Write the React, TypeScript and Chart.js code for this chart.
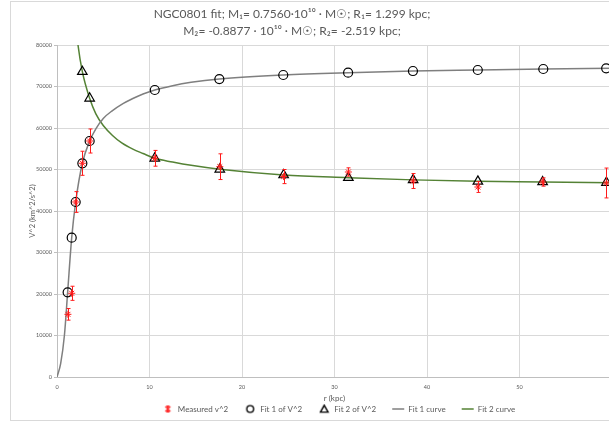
import React, { useEffect, useRef } from 'react';
import { Chart, registerables } from 'chart.js';

Chart.register(...registerables);

// ---- Data ----
const titleLines = [
  'NGC0801 fit; M₁= 0.7560·10¹⁰ · M☉; R₁= 1.299 kpc;',
  'M₂= -0.8877 · 10¹⁰ · M☉; R₂= -2.519 kpc;',
];
const xAxisTitle = 'r (kpc)';
const yAxisTitle = 'V^2 (km^2/s^2)';
const seriesNames = ['Measured v^2', 'Fit 1 of V^2', 'Fit 2 of V^2', 'Fit 1 curve', 'Fit 2 curve'];

const measuredR = [1.18, 1.59, 2.02, 2.74, 3.53, 10.57, 17.6, 24.5, 31.5, 38.5, 45.5, 52.5, 59.4];
const measuredV2 = [15100, 20170, 42170, 51500, 56870, 52700, 50680, 48300, 49400, 47230, 45780, 46990, 46750];
const measuredErr = [1400, 1700, 2500, 2900, 2900, 1900, 3100, 1700, 1000, 1800, 1300, 1000, 3600];

const fit1R = [1.15, 1.59, 2.02, 2.74, 3.53, 10.57, 17.55, 24.46, 31.47, 38.48, 45.49, 52.57, 59.37];
const fit1V2 = [20400, 33570, 42170, 51500, 56870, 69160, 71800, 72770, 73330, 73730, 73980, 74220, 74390];

const fit2R = [2.74, 3.53, 10.57, 17.6, 24.5, 31.5, 38.5, 45.5, 52.5, 59.4];
const fit2V2 = [73570, 67160, 52700, 50050, 48670, 48030, 47500, 47150, 47000, 46850];

const curve1R = [0, 0.4, 0.8, 1.15, 1.59, 2.02, 2.74, 3.53, 4.2, 5, 6, 7, 8.2, 9.3, 10.57, 12.5, 14.5, 17.55, 24.46, 31.47, 38.48, 45.49, 52.57, 60];
const curve1V2 = [0, 3300, 10000, 20400, 33570, 42170, 51500, 56870, 59800, 62300, 64200, 65700, 67100, 68200, 69160, 70200, 71000, 71800, 72770, 73330, 73730, 73980, 74220, 74400];

const curve2R = [1.9, 2.27, 2.74, 3.53, 4.2, 5, 6, 7, 8.2, 9.3, 10.57, 12.5, 14.5, 17.6, 24.5, 31.5, 38.5, 45.5, 52.5, 60];
const curve2V2 = [88000, 80000, 73570, 67160, 63400, 60600, 58200, 56400, 54900, 53850, 52700, 51800, 51000, 50050, 48670, 48030, 47500, 47150, 47000, 46800];

const xTicks = [0, 10, 20, 30, 40, 50, 60];
const yTicks = [0, 10000, 20000, 30000, 40000, 50000, 60000, 70000, 80000];

const toPoints = (xs: number[], ys: number[]) => xs.map((x, i) => ({ x, y: ys[i] }));

const FONT = 'Lato, "Open Sans", sans-serif';
const TEXT = '#595959';
const RED = '#ff1a1a';

function makeMarker(kind: string): HTMLCanvasElement {
  const c = document.createElement('canvas');
  c.width = 11;
  c.height = 11;
  const g = c.getContext('2d') as CanvasRenderingContext2D;
  g.lineWidth = 1.4;
  g.strokeStyle = '#000000';
  g.beginPath();
  if (kind === 'circle') {
    g.arc(5.5, 5.5, 3.4, 0, Math.PI * 2);
  } else if (kind === 'triangle') {
    g.moveTo(5.5, 1.8);
    g.lineTo(9.3, 8.6);
    g.lineTo(1.7, 8.6);
    g.closePath();
  } else {
    g.strokeStyle = RED;
    g.lineWidth = 1.2;
    g.moveTo(3, 3);
    g.lineTo(8, 8);
    g.moveTo(8, 3);
    g.lineTo(3, 8);
    g.moveTo(5.5, 2.5);
    g.lineTo(5.5, 8.5);
    g.moveTo(4, 2.5);
    g.lineTo(7, 2.5);
    g.moveTo(4, 8.5);
    g.lineTo(7, 8.5);
  }
  g.stroke();
  return c;
}

const errorBarPlugin = {
  id: 'errorBars',
  afterDatasetsDraw(chart: any) {
    const { ctx, scales } = chart;
    const xs = scales.x;
    const ys = scales.y;
    ctx.save();
    ctx.strokeStyle = RED;
    ctx.lineWidth = 1;
    measuredR.forEach((r, i) => {
      const x = Math.round(xs.getPixelForValue(r)) + 0.5;
      const yLo = ys.getPixelForValue(measuredV2[i] - measuredErr[i]);
      const yHi = ys.getPixelForValue(measuredV2[i] + measuredErr[i]);
      ctx.beginPath();
      ctx.moveTo(x, yLo);
      ctx.lineTo(x, yHi);
      ctx.moveTo(x - 2, yLo);
      ctx.lineTo(x + 2, yLo);
      ctx.moveTo(x - 2, yHi);
      ctx.lineTo(x + 2, yHi);
      ctx.stroke();
    });
    ctx.restore();
  },
};

const boxShiftPlugin = {
  id: 'boxShift',
  afterLayout(chart: any) {
    const t = chart.titleBlock;
    if (t) {
      t.left = 0;
      t.right = 562;
    }
    const lg = chart.legend;
    if (lg) {
      lg.top = 407 - 16 - 4;
      lg.left = 54;
    }
  },
};

export default function App() {
  const ref = useRef<HTMLCanvasElement>(null);

  useEffect(() => {
    const canvas = ref.current;
    if (!canvas) return;
    Chart.defaults.font.family = FONT;
    Chart.defaults.color = TEXT;

    const legendMarkers: (HTMLCanvasElement | string)[] = [
      makeMarker('star'),
      makeMarker('circle'),
      makeMarker('triangle'),
      'line',
      'line',
    ];

    const chart = new Chart(canvas, {
      type: 'scatter',
      data: {
        datasets: [
          {
            label: seriesNames[0],
            data: toPoints(measuredR, measuredV2),
            pointStyle: 'star',
            pointRadius: 3.5,
            borderColor: RED,
            backgroundColor: RED,
            borderWidth: 1,
            showLine: false,
          },
          {
            label: seriesNames[1],
            data: toPoints(fit1R, fit1V2),
            pointStyle: 'circle',
            pointRadius: 4.5,
            borderColor: '#000000',
            backgroundColor: 'rgba(0,0,0,0)',
            borderWidth: 1.2,
            showLine: false,
          },
          {
            label: seriesNames[2],
            data: toPoints(fit2R, fit2V2),
            pointStyle: 'triangle',
            pointRadius: 5.5,
            borderColor: '#000000',
            backgroundColor: 'rgba(0,0,0,0)',
            borderWidth: 1.2,
            showLine: false,
          },
          {
            label: seriesNames[3],
            data: toPoints(curve1R, curve1V2),
            showLine: true,
            pointRadius: 0,
            pointStyle: 'line',
            borderColor: '#7f7f7f',
            backgroundColor: '#7f7f7f',
            borderWidth: 1.5,
            cubicInterpolationMode: 'monotone',
          },
          {
            label: seriesNames[4],
            data: toPoints(curve2R, curve2V2),
            showLine: true,
            pointRadius: 0,
            pointStyle: 'line',
            borderColor: '#548235',
            backgroundColor: '#548235',
            borderWidth: 1.5,
            cubicInterpolationMode: 'monotone',
          },
        ],
      },
      options: {
        animation: false,
        responsive: false,
        maintainAspectRatio: false,
        layout: { padding: { left: 12, right: 77, top: 0, bottom: 0 } },
        plugins: {
          title: {
            display: true,
            text: titleLines,
            color: TEXT,
            font: { family: FONT, size: 12, weight: 'normal', lineHeight: 17 / 12 },
            padding: { top: 3.5, bottom: 5.5 },
          },
          legend: {
            display: true,
            position: 'bottom',
            maxHeight: 16,
            labels: {
              usePointStyle: true,
              pointStyleWidth: 12,
              boxHeight: 8,
              padding: 16,
              color: TEXT,
              font: { family: FONT, size: 8 },
              generateLabels: (ch: any) => {
                const items = (Chart.defaults as any).plugins.legend.labels.generateLabels(ch);
                items.forEach((it: any, i: number) => {
                  if (legendMarkers[i]) it.pointStyle = legendMarkers[i];
                });
                return items;
              },
            },
          },
          tooltip: { enabled: false },
        },
        scales: {
          x: {
            type: 'linear',
            min: 0,
            max: 60,
            afterBuildTicks: (scale: any) => {
              scale.ticks = xTicks.map((v) => ({ value: v }));
            },
            afterFit: (scale: any) => {
              scale.height = 27;
            },
            ticks: {
              color: TEXT,
              font: { family: FONT, size: 5.5 },
              padding: 6.5,
              callback: (v: any) => String(v),
              maxRotation: 0,
            },
            grid: { color: '#d9d9d9', lineWidth: 1, drawTicks: false },
            border: { color: '#bfbfbf', width: 1 },
            title: {
              display: true,
              text: xAxisTitle,
              color: TEXT,
              font: { family: FONT, size: 8 },
              padding: { top: 0, bottom: 1 },
            },
          },
          y: {
            type: 'linear',
            min: 0,
            max: 80000,
            afterBuildTicks: (scale: any) => {
              scale.ticks = yTicks.map((v) => ({ value: v }));
            },
            afterFit: (scale: any) => {
              scale.width = 34;
            },
            ticks: {
              color: TEXT,
              font: { family: FONT, size: 5.5 },
              padding: 2,
              callback: (v: any) => String(v),
            },
            grid: { color: '#d9d9d9', lineWidth: 1, tickLength: 3, tickColor: '#bfbfbf' },
            border: { color: '#bfbfbf', width: 1 },
            title: {
              display: true,
              text: yAxisTitle,
              color: TEXT,
              font: { family: FONT, size: 7.5 },
              padding: { top: 5, bottom: 0 },
            },
          },
        },
      },
      plugins: [errorBarPlugin, boxShiftPlugin],
    } as any);

    return () => chart.destroy();
  }, []);

  return (
    <div
      style={{
        position: 'fixed',
        left: 0,
        top: 0,
        width: 609,
        height: 425,
        overflow: 'hidden',
        background: '#ffffff',
      }}
    >
      <div
        style={{
          position: 'absolute',
          left: 10,
          top: 1,
          width: 678,
          height: 418,
          border: '1px solid #d9d9d9',
          background: '#ffffff',
        }}
      >
        <canvas ref={ref} width={678} height={418} style={{ display: 'block', width: 678, height: 418 }} />
      </div>
    </div>
  );
}
